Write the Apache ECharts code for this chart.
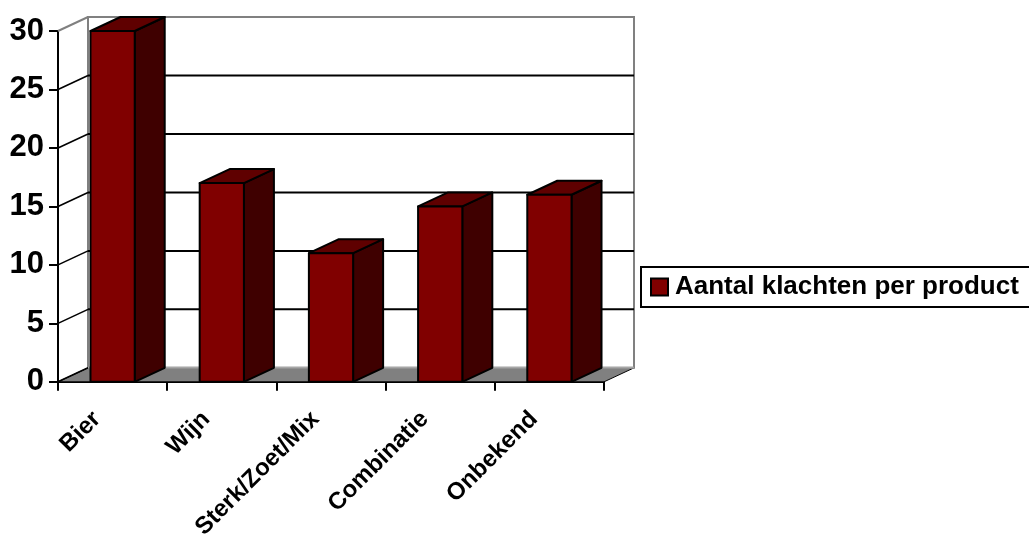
<!DOCTYPE html>
<html>
<head>
<meta charset="utf-8">
<style>html,body{margin:0;padding:0;background:#fff}#chart{width:1029px;height:542px}</style>
<script src="https://cdn.jsdelivr.net/npm/echarts@6/dist/echarts.min.js"></script>
</head>
<body>
<div id="chart"></div>
<script>
// Complaints per product category
const categories = ['Bier', 'Wijn', 'Sterk/Zoet/Mix', 'Combinatie', 'Onbekend'];
const klachten = [30, 17, 11, 15, 16];
const valueTicks = [0, 5, 10, 15, 20, 25, 30];
const seriesName = 'Aantal klachten per product';

// Oblique projection offset of the back wall relative to the front plane
const DEPTH_X = 30;
const DEPTH_Y = 14;
const BAR_RATIO = 0.405;
const FONT = '"Liberation Sans", Arial, sans-serif';

const chart = echarts.init(document.getElementById('chart'), null, { renderer: 'canvas' });

// Floor and back wall of the box
function renderRoom(params, api) {
  const g = params.coordSys;
  const bottom = g.y + g.height, right = g.x + g.width;
  const gray = '#808080';
  return {
    type: 'group',
    children: [
      { type: 'rect', shape: { x: g.x + DEPTH_X, y: g.y - DEPTH_Y, width: g.width, height: g.height },
        style: { fill: '#fff', stroke: gray, lineWidth: 2 } },
      { type: 'polygon',
        shape: { points: [[g.x, bottom], [right, bottom], [right + DEPTH_X, bottom - DEPTH_Y], [g.x + DEPTH_X, bottom - DEPTH_Y]] },
        style: { fill: gray, stroke: '#000', lineWidth: 1 } },
      { type: 'line',
        shape: { x1: g.x + DEPTH_X, y1: bottom - DEPTH_Y, x2: right + DEPTH_X, y2: bottom - DEPTH_Y },
        style: { stroke: '#a6a6a6', lineWidth: 2 } }
    ]
  };
}

// One gridline per value tick: slanted on the side wall, level on the back wall
function renderGridline(params, api) {
  const g = params.coordSys;
  const v = api.value(0);
  const y = api.coord([0, v])[1];
  const top = v === valueTicks[valueTicks.length - 1];
  const children = [{
    type: 'line',
    shape: { x1: g.x, y1: y, x2: g.x + DEPTH_X, y2: y - DEPTH_Y },
    style: { stroke: top ? '#808080' : '#000', lineWidth: top ? 2 : 1.6 }
  }];
  if (v !== valueTicks[0] && !top) {
    children.push({
      type: 'line',
      shape: { x1: g.x + DEPTH_X, y1: y - DEPTH_Y, x2: g.x + g.width + DEPTH_X, y2: y - DEPTH_Y },
      style: { stroke: '#000', lineWidth: 2 }
    });
  }
  return { type: 'group', children };
}

// Extruded bar: front, side and top faces
function renderBar(params, api) {
  const top = api.coord([api.value(0), api.value(1)]);
  const base = api.coord([api.value(0), 0]);
  const w = api.size([1, 0])[0] * BAR_RATIO;
  const l = top[0] - w / 2, r = top[0] + w / 2;
  const edge = { stroke: '#000', lineWidth: 2, lineJoin: 'round' };
  return {
    type: 'group',
    children: [
      { type: 'polygon',
        shape: { points: [[r, top[1]], [r + DEPTH_X, top[1] - DEPTH_Y], [r + DEPTH_X, base[1] - DEPTH_Y], [r, base[1]]] },
        style: Object.assign({ fill: '#3f0000' }, edge) },
      { type: 'polygon',
        shape: { points: [[l, top[1]], [l + DEPTH_X, top[1] - DEPTH_Y], [r + DEPTH_X, top[1] - DEPTH_Y], [r, top[1]]] },
        style: Object.assign({ fill: '#5f0000' }, edge) },
      { type: 'rect',
        shape: { x: l, y: top[1], width: w, height: base[1] - top[1] },
        style: Object.assign({ fill: '#800000' }, edge) }
    ]
  };
}

chart.setOption({
  animation: false,
  backgroundColor: '#fff',
  grid: { left: 58, top: 31, right: 425, bottom: 157.5, containLabel: false },
  legend: {
    left: 641, top: 267,
    padding: [7, 30, 7, 9],
    borderColor: '#000', borderWidth: 2,
    itemWidth: 17, itemHeight: 17, itemGap: 0,
    icon: 'rect',
    data: [{ name: seriesName, itemStyle: { color: '#800000', borderColor: '#000', borderWidth: 2 } }],
    textStyle: { color: '#000', fontFamily: FONT, fontWeight: 'bold', fontSize: 26, padding: [0, 0, 0, 2] }
  },
  xAxis: {
    type: 'category',
    data: categories,
    boundaryGap: true,
    axisLine: { show: true, lineStyle: { color: '#000', width: 2 } },
    axisTick: { show: true, alignWithLabel: false, length: 9, lineStyle: { color: '#000', width: 2 } },
    axisLabel: { interval: 0, rotate: 45, margin: 18, padding: [0, 22, 0, 0], color: '#000', fontFamily: FONT, fontWeight: 'bold', fontSize: 24 },
    splitLine: { show: false }
  },
  yAxis: {
    type: 'value', min: 0, max: 30, interval: 5,
    axisLine: { show: true, lineStyle: { color: '#000', width: 2 } },
    axisTick: { show: true, length: 9, lineStyle: { color: '#000', width: 2 } },
    axisLabel: { margin: 14, color: '#000', fontFamily: FONT, fontWeight: 'bold', fontSize: 31 },
    splitLine: { show: false }
  },
  series: [
    { type: 'custom', name: 'room', silent: true, clip: false, z: 1, renderItem: renderRoom, data: [[0]] },
    { type: 'custom', name: 'grid', silent: true, clip: false, z: 2, renderItem: renderGridline,
      encode: { y: 0 }, data: valueTicks.map(v => [v]) },
    { type: 'custom', name: seriesName, clip: false, z: 3, renderItem: renderBar,
      itemStyle: { color: '#800000' }, encode: { x: 0, y: 1 },
      data: klachten.map((v, i) => [i, v]) }
  ]
});
</script>
</body>
</html>
